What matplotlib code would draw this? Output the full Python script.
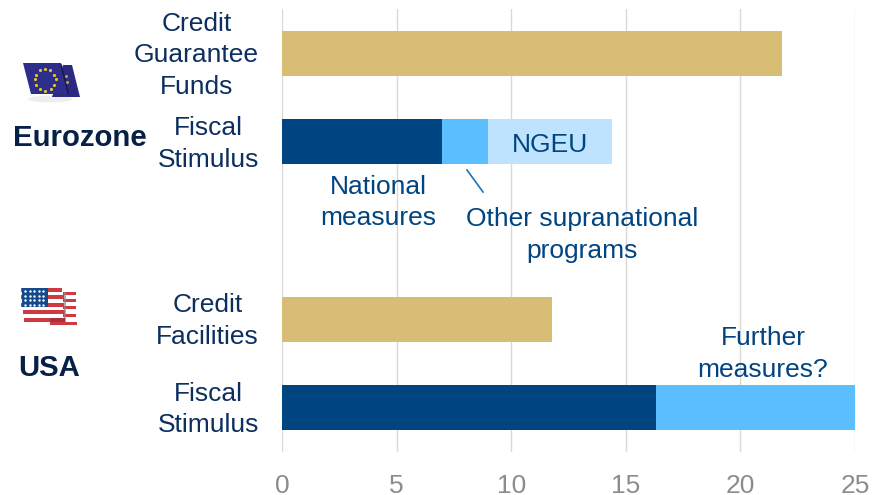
import matplotlib
matplotlib.use("Agg")
import matplotlib.pyplot as plt
from matplotlib.patches import Polygon, Rectangle, Ellipse
from matplotlib.transforms import ScaledTranslation

plt.rcParams['font.family'] = ['Liberation Sans', 'DejaVu Sans']

# categories from top to bottom, the blank one is the gap between the blocks
categories = ["Credit\nGuarantee\nFunds", "Fiscal\nStimulus", "", "Credit\nFacilities", "Fiscal\nStimulus"]
credit_values = [21.8, 0, 0, 11.8, 0]
national_values = [0, 7.0, 0, 0, 16.3]
supranational_values = [0, 2.0, 0, 0, 8.7]
ngeu_values = [0, 5.4, 0, 0, 0]
x_ticks = [0, 5, 10, 15, 20, 25]

GOLD = "#d8bd75"
DARK = "#004481"
MID = "#5bbeff"
LIGHT = "#bde3ff"
TEXT = "#004481"
LABEL = "#0c2f60"
NAVY = "#072146"
FS = 19
LS = 1.38

fig = plt.figure(figsize=(8.72, 4.95), dpi=100)
W, H = 872, 495
ax = fig.add_axes([282 / W, 1 - 452 / H, 573 / W, 443 / H])

pos = list(range(len(categories)))
ax.barh(pos, credit_values, height=0.51, color=GOLD, zorder=3)
ax.barh(pos, national_values, height=0.51, color=DARK, zorder=3)
ax.barh(pos, supranational_values, left=national_values, height=0.51, color=MID, zorder=3)
left = [a + b for a, b in zip(national_values, supranational_values)]
ax.barh(pos, ngeu_values, left=left, height=0.51, color=LIGHT, zorder=3)

ax.set_xlim(0, 25)
ax.set_ylim(4.5, -0.5)
ax.set_xticks(x_ticks)
ax.set_yticks(pos)
ax.set_yticklabels(categories, fontsize=FS, color=LABEL, ha="right", va="center", multialignment="center", linespacing=LS)
ax.tick_params(axis="y", length=0, pad=16.5)
ax.tick_params(axis="x", length=0, pad=16, labelsize=FS, labelcolor="#8c8c8c")
ax.grid(axis="x", color="#d9d9d9", lw=1, zorder=0)
for s in ax.spines.values():
    s.set_visible(False)

# nudge category labels down 2px
nudge = ScaledTranslation(0, -2 / 100, fig.dpi_scale_trans)
for lab in ax.get_yticklabels():
    lab.set_transform(lab.get_transform() + nudge)

# pixel overlay for annotations and flags
ov = fig.add_axes([0, 0, 1, 1], facecolor="none")
ov.set_xlim(0, W)
ov.set_ylim(H, 0)
ov.axis("off")

ov.text(550, 144.5, "NGEU", fontsize=FS, color=TEXT, ha="center", va="center")
ov.text(378, 202.5, "National\nmeasures", fontsize=FS, color=TEXT, ha="center", va="center", linespacing=LS)
ov.text(582, 235, "Other supranational\nprograms", fontsize=FS, color=TEXT, ha="center", va="center", linespacing=LS)
ov.text(763, 354, "Further\nmeasures?", fontsize=FS, color=TEXT, ha="center", va="center", linespacing=LS)
ov.plot([467, 483], [170, 192], color="#1973b8", lw=1.2)
ov.text(79.5, 138, "Eurozone", fontsize=21.2, fontweight="bold", color=NAVY, ha="center", va="center")
ov.text(49.5, 368.5, "USA", fontsize=21.2, fontweight="bold", color=NAVY, ha="center", va="center")

# EU flag
ov.add_patch(Ellipse((50, 99), 44, 7, color="#e4e4e4", alpha=0.6, lw=0))
ov.add_patch(Polygon([[63, 65], [72, 65], [80, 97], [52, 97]], color="#2a2a80", lw=0))
ov.add_patch(Polygon([[23, 63], [61, 63], [68, 94], [31, 94]], color="#2d2d8c", lw=0))
ov.plot([61, 68.5], [65, 94], color="#15154f", lw=1)
stars = [(45, 69), (50, 70), (54, 75), (55.5, 79), (54, 85), (51, 89), (45, 90.5), (40, 89), (36, 85), (34.5, 79), (36, 75), (40, 70)]
ov.scatter([s[0] for s in stars], [s[1] for s in stars], s=5, color="#e8c81e", zorder=5, lw=0)
ov.scatter([66, 67], [76, 82], s=5, color="#b8a030", zorder=5, lw=0)

# US flag
for y in [292, 299, 306, 314]:
    ov.add_patch(Rectangle((63, y), 13, 3.2, color="#cf3a42", lw=0))
ov.add_patch(Rectangle((50, 322), 27, 3.4, color="#cf3a42", lw=0))
for x0, x1, y in [(21, 62, 288), (21, 64, 295), (21, 64, 303), (23, 65, 310), (24, 65, 318)]:
    ov.add_patch(Rectangle((x0, y), x1 - x0, 3.6, color="#cf3a42", lw=0))
ov.add_patch(Rectangle((63.5, 292), 2.5, 30, color="#8a8a8a", alpha=0.7, lw=0))
ov.add_patch(Rectangle((50, 318), 15, 4, color="#a8323a", lw=0))
ov.add_patch(Rectangle((21.5, 288), 26, 19, color="#144a8c", lw=0))
sx = [25 + 4.6 * i for i in range(5)]
ov.scatter([x for x in sx for _ in range(4)], [291 + 4.5 * j for _ in sx for j in range(4)], s=3, color="white", lw=0, zorder=5)

fig.savefig("out.png", dpi=100)
